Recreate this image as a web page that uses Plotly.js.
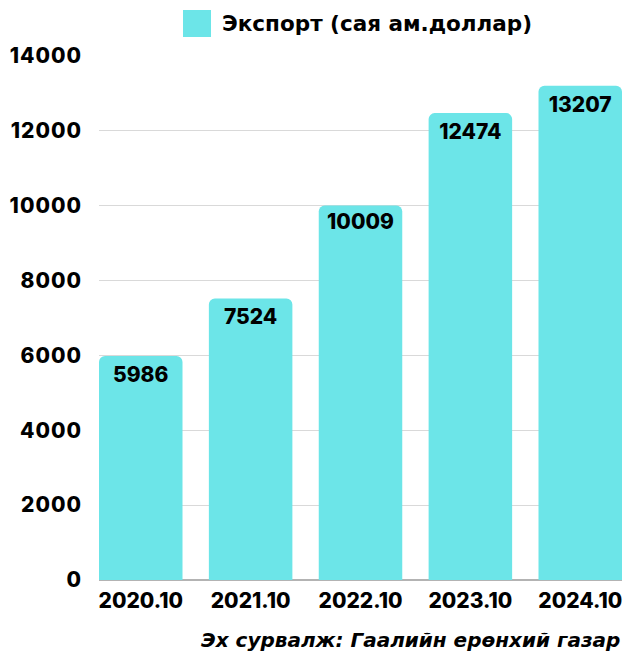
<!DOCTYPE html>
<html>
<head>
<meta charset="utf-8">
<script src="https://cdn.plot.ly/plotly-3.0.1.min.js"></script>
<style>
html,body{margin:0;padding:0;background:#fff}
#chart{width:625px;height:657px}
#chart .ytick text{letter-spacing:1px}
</style>
</head>
<body>
<div id="chart"></div>
<script>
const categories = ["2020.10", "2021.10", "2022.10", "2023.10", "2024.10"];
const exportValues = [5986, 7524, 10009, 12474, 13207];
const yTicks = [0, 2000, 4000, 6000, 8000, 10000, 12000, 14000];
const seriesName = "Экспорт (сая ам.доллар)";
const sourceText = "Эх сурвалж: Гаалийн ерөнхий газар";

const FONT = "Inter, 'DejaVu Sans', sans-serif";
const WIDE = "'DejaVu Sans', sans-serif";
const BAR = "#6CE5E8";

const trace = {
  type: "bar",
  x: categories,
  y: exportValues,
  name: seriesName,
  width: 0.76,
  marker: {color: BAR, cornerradius: 6},
  text: exportValues.map(String),
  textposition: "inside",
  insidetextanchor: "end",
  textangle: 0,
  textfont: {family: FONT, size: 21, color: "#000", weight: 800},
  cliponaxis: false,
  hoverinfo: "x+y",
  showlegend: false
};

const W = 625, H = 657, ml = 99, mr = 3, mt = 56, mb = 77;
const pw = W - ml - mr, ph = H - mt - mb;
const px = v => (v - ml) / pw;
const py = v => (H - mb - v) / ph;

const layout = {
  width: W, height: H,
  margin: {l: ml, r: mr, t: mt, b: mb, pad: 0},
  paper_bgcolor: "#fff",
  plot_bgcolor: "#fff",
  showlegend: false,
  bargap: 0.24,
  xaxis: {
    type: "category",
    range: [-0.38, 4.38],
    showgrid: false,
    zeroline: false,
    showline: false,
    ticks: "",
    tickfont: {family: FONT, size: 21, color: "#000", weight: 800},
    ticklabelstandoff: 6,
    fixedrange: true
  },
  yaxis: {
    range: [0, 14000],
    tickvals: yTicks,
    ticktext: yTicks.map(String),
    showgrid: true,
    gridcolor: "#d9d9d9",
    gridwidth: 1,
    zeroline: true,
    zerolinecolor: "#b3b3b3",
    zerolinewidth: 1.5,
    showline: false,
    ticks: "",
    ticklabelstandoff: 16,
    tickfont: {family: FONT, size: 21, color: "#000", weight: 800},
    fixedrange: true
  },
  shapes: [{
    type: "rect", xref: "paper", yref: "paper",
    x0: px(183), x1: px(211), y0: py(37), y1: py(10),
    fillcolor: BAR, line: {width: 0}
  }],
  annotations: [
    {
      xref: "paper", yref: "paper", x: px(220), y: py(23),
      xanchor: "left", yanchor: "middle", showarrow: false,
      text: seriesName,
      font: {family: WIDE, size: 21.5, color: "#000", weight: 700}
    },
    {
      xref: "paper", yref: "paper", x: px(622), y: py(640),
      xanchor: "right", yanchor: "middle", showarrow: false,
      text: sourceText,
      font: {family: WIDE, size: 20, color: "#000", weight: 700, style: "italic"}
    }
  ]
};

Plotly.newPlot("chart", [trace], layout, {displayModeBar: false, staticPlot: true});
</script>
</body>
</html>
